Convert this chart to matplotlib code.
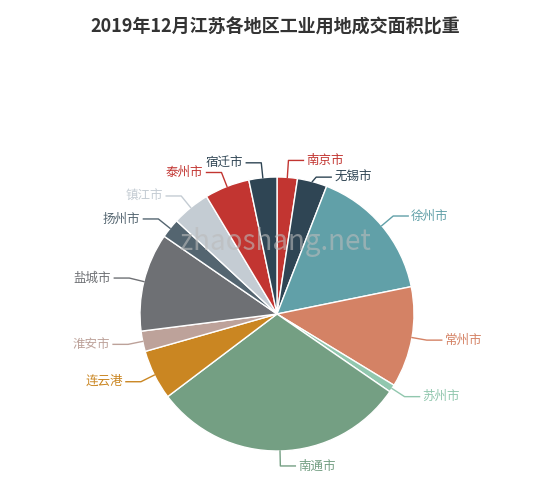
import numpy as np
import matplotlib.pyplot as plt

plt.rcParams['font.family'] = ['Noto Sans CJK SC', 'DejaVu Sans']

cities = ['南京市', '无锡市', '徐州市', '常州市', '苏州市', '南通市', '连云港',
          '淮安市', '盐城市', '扬州市', '镇江市', '泰州市', '宿迁市']
values = [2.4, 3.5, 15.9, 11.9, 0.9, 30.1, 5.9, 2.4, 11.6, 2.3, 4.5, 5.3, 3.3]
colors = ['#c23531', '#2f4554', '#61a0a8', '#d48265', '#91c7ae', '#749f83', '#ca8622',
          '#bda29a', '#6e7074', '#546570', '#c4ccd3', '#c23531', '#2f4554']
# vertical nudge of crowded labels (pixels), as the original layout avoids overlap
nudge = [-2, 10, 0, 0, 0, 0, 0, 0, 0, 0, 0, 0, 0]

W, H = 550, 490
cx, cy, R = 277, 314, 137

fig = plt.figure(figsize=(W / 100, H / 100), dpi=100)
ax = fig.add_axes([0, 0, 1, 1])

wedges, _ = ax.pie(values, colors=colors, startangle=-90, counterclock=True,
                   center=(cx, cy), radius=R, frame=True,
                   wedgeprops=dict(edgecolor='white', linewidth=1))
ax.set_xlim(0, W)
ax.set_ylim(H, 0)
ax.axis('off')

ax.text(W / 2, 27, '2019年12月江苏各地区工业用地成交面积比重', ha='center', va='center',
        fontsize=13, fontweight='bold', color='#333333')

total = sum(values)
cum = 0
for name, v, c, dy in zip(cities, values, colors, nudge):
    mid = (cum + v / 2) / total * 2 * np.pi
    cum += v
    sx, sy = np.sin(mid), -np.cos(mid)
    p0 = (cx + R * sx, cy + R * sy)
    p1 = (cx + (R + 15) * sx, cy + (R + 15) * sy + dy)
    d = 1 if sx >= 0 else -1
    p2 = (p1[0] + 15 * d, p1[1])
    ax.plot([p0[0], p1[0], p2[0]], [p0[1], p1[1], p2[1]], color=c, lw=1)
    ax.text(p2[0] + 3 * d, p2[1], name, color=c, fontsize=9,
            ha='left' if d > 0 else 'right', va='center')

ax.text(275, 242, 'zhaoshang.net', fontsize=20, color='#bbbbbb', alpha=0.6,
        ha='center', va='center')

fig.savefig('out.png', dpi=100)
